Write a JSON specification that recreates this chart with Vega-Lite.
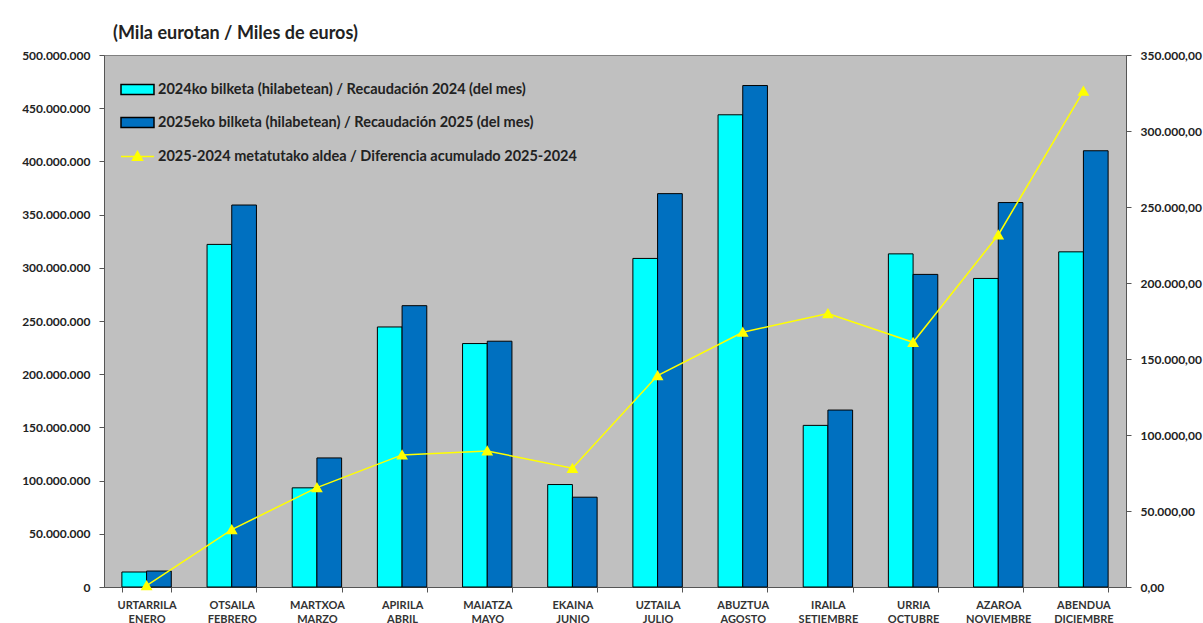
{
  "$schema": "https://vega.github.io/schema/vega-lite/v6.json",
  "autosize": "none",
  "width": 1022,
  "height": 532,
  "padding": {"left": 104, "top": 55, "right": 77, "bottom": 36},
  "background": "white",
  "title": {
    "text": "(Mila eurotan / Miles de euros)",
    "anchor": "start",
    "frame": "group",
    "dx": 9,
    "offset": 6,
    "font": "Lato",
    "fontSize": 18,
    "fontWeight": "bold",
    "color": "#222222"
  },
  "datasets": {
    "bars": [
      {"month": "URTARRILA|ENERO", "series": "2024ko bilketa (hilabetean) / Recaudación 2024 (del mes)", "value": 14100000},
      {"month": "URTARRILA|ENERO", "series": "2025eko bilketa (hilabetean) / Recaudación 2025 (del mes)", "value": 15000000},
      {"month": "OTSAILA|FEBRERO", "series": "2024ko bilketa (hilabetean) / Recaudación 2024 (del mes)", "value": 322000000},
      {"month": "OTSAILA|FEBRERO", "series": "2025eko bilketa (hilabetean) / Recaudación 2025 (del mes)", "value": 359000000},
      {"month": "MARTXOA|MARZO", "series": "2024ko bilketa (hilabetean) / Recaudación 2024 (del mes)", "value": 93200000},
      {"month": "MARTXOA|MARZO", "series": "2025eko bilketa (hilabetean) / Recaudación 2025 (del mes)", "value": 121300000},
      {"month": "APIRILA|ABRIL", "series": "2024ko bilketa (hilabetean) / Recaudación 2024 (del mes)", "value": 244400000},
      {"month": "APIRILA|ABRIL", "series": "2025eko bilketa (hilabetean) / Recaudación 2025 (del mes)", "value": 264400000},
      {"month": "MAIATZA|MAYO", "series": "2024ko bilketa (hilabetean) / Recaudación 2024 (del mes)", "value": 228800000},
      {"month": "MAIATZA|MAYO", "series": "2025eko bilketa (hilabetean) / Recaudación 2025 (del mes)", "value": 231000000},
      {"month": "EKAINA|JUNIO", "series": "2024ko bilketa (hilabetean) / Recaudación 2024 (del mes)", "value": 96300000},
      {"month": "EKAINA|JUNIO", "series": "2025eko bilketa (hilabetean) / Recaudación 2025 (del mes)", "value": 84400000},
      {"month": "UZTAILA|JULIO", "series": "2024ko bilketa (hilabetean) / Recaudación 2024 (del mes)", "value": 308800000},
      {"month": "UZTAILA|JULIO", "series": "2025eko bilketa (hilabetean) / Recaudación 2025 (del mes)", "value": 369700000},
      {"month": "ABUZTUA|AGOSTO", "series": "2024ko bilketa (hilabetean) / Recaudación 2024 (del mes)", "value": 443800000},
      {"month": "ABUZTUA|AGOSTO", "series": "2025eko bilketa (hilabetean) / Recaudación 2025 (del mes)", "value": 471300000},
      {"month": "IRAILA|SETIEMBRE", "series": "2024ko bilketa (hilabetean) / Recaudación 2024 (del mes)", "value": 151900000},
      {"month": "IRAILA|SETIEMBRE", "series": "2025eko bilketa (hilabetean) / Recaudación 2025 (del mes)", "value": 166300000},
      {"month": "URRIA|OCTUBRE", "series": "2024ko bilketa (hilabetean) / Recaudación 2024 (del mes)", "value": 313100000},
      {"month": "URRIA|OCTUBRE", "series": "2025eko bilketa (hilabetean) / Recaudación 2025 (del mes)", "value": 293800000},
      {"month": "AZAROA|NOVIEMBRE", "series": "2024ko bilketa (hilabetean) / Recaudación 2024 (del mes)", "value": 290000000},
      {"month": "AZAROA|NOVIEMBRE", "series": "2025eko bilketa (hilabetean) / Recaudación 2025 (del mes)", "value": 361300000},
      {"month": "ABENDUA|DICIEMBRE", "series": "2024ko bilketa (hilabetean) / Recaudación 2024 (del mes)", "value": 315000000},
      {"month": "ABENDUA|DICIEMBRE", "series": "2025eko bilketa (hilabetean) / Recaudación 2025 (del mes)", "value": 410000000}
    ],
    "diff": [
      {"month": "URTARRILA|ENERO", "series": "2025-2024 metatutako aldea / Diferencia acumulado 2025-2024", "diff": 900},
      {"month": "OTSAILA|FEBRERO", "series": "2025-2024 metatutako aldea / Diferencia acumulado 2025-2024", "diff": 37800},
      {"month": "MARTXOA|MARZO", "series": "2025-2024 metatutako aldea / Diferencia acumulado 2025-2024", "diff": 65400},
      {"month": "APIRILA|ABRIL", "series": "2025-2024 metatutako aldea / Diferencia acumulado 2025-2024", "diff": 86900},
      {"month": "MAIATZA|MAYO", "series": "2025-2024 metatutako aldea / Diferencia acumulado 2025-2024", "diff": 89500},
      {"month": "EKAINA|JUNIO", "series": "2025-2024 metatutako aldea / Diferencia acumulado 2025-2024", "diff": 78100},
      {"month": "UZTAILA|JULIO", "series": "2025-2024 metatutako aldea / Diferencia acumulado 2025-2024", "diff": 139100},
      {"month": "ABUZTUA|AGOSTO", "series": "2025-2024 metatutako aldea / Diferencia acumulado 2025-2024", "diff": 167600},
      {"month": "IRAILA|SETIEMBRE", "series": "2025-2024 metatutako aldea / Diferencia acumulado 2025-2024", "diff": 179900},
      {"month": "URRIA|OCTUBRE", "series": "2025-2024 metatutako aldea / Diferencia acumulado 2025-2024", "diff": 161000},
      {"month": "AZAROA|NOVIEMBRE", "series": "2025-2024 metatutako aldea / Diferencia acumulado 2025-2024", "diff": 231600},
      {"month": "ABENDUA|DICIEMBRE", "series": "2025-2024 metatutako aldea / Diferencia acumulado 2025-2024", "diff": 326300}
    ]
  },
  "layer": [
    {
      "data": {"name": "bars"},
      "mark": {"type": "bar", "stroke": "#000000", "strokeWidth": 1},
      "encoding": {
        "x": {
          "field": "month",
          "type": "nominal",
          "sort": null,
          "scale": {"paddingInner": 0.42, "paddingOuter": 0.21},
          "axis": {
            "title": null,
            "labelExpr": "split(datum.label, '|')",
            "labelAngle": 0,
            "tickBand": "extent",
            "tickSize": 5,
            "labelPadding": 7,
            "labelFont": "Lato",
            "labelFontSize": 11,
            "labelFontWeight": "bold",
            "labelColor": "#333333",
            "labelLineHeight": 14,
            "domainColor": "#555555",
            "tickColor": "#555555"
          }
        },
        "xOffset": {"field": "series", "sort": null, "scale": {"paddingInner": 0, "paddingOuter": 0}},
        "y": {
          "field": "value",
          "type": "quantitative",
          "scale": {"domain": [0, 500000000], "nice": false},
          "axis": {
            "title": null,
            "values": [0, 50000000, 100000000, 150000000, 200000000, 250000000, 300000000, 350000000, 400000000, 450000000, 500000000],
            "format": ",d",
            "grid": false,
            "tickSize": 5,
            "labelPadding": 9,
            "labelFont": "Lato",
            "labelFontSize": 12,
            "labelFontWeight": "bold",
            "labelColor": "#222222",
            "domainColor": "#555555",
            "tickColor": "#555555"
          }
        },
        "color": {
          "field": "series",
          "type": "nominal",
          "sort": null,
          "scale": {
            "domain": [
              "2024ko bilketa (hilabetean) / Recaudación 2024 (del mes)",
              "2025eko bilketa (hilabetean) / Recaudación 2025 (del mes)"
            ],
            "range": ["#00FFFF", "#0070C0"]
          },
          "legend": {
            "title": null,
            "orient": "none",
            "legendX": 16,
            "legendY": 17,
            "padding": 0,
            "symbolType": "M-1,-0.3H1V0.3H-1Z",
            "symbolSize": 1089,
            "symbolStrokeColor": "#000000",
            "symbolStrokeWidth": 1.5,
            "labelOffset": 3,
            "rowPadding": 7,
            "labelFont": "Lato",
            "labelFontSize": 14.5,
            "labelFontWeight": "bold",
            "labelColor": "#222222",
            "labelLimit": 700
          }
        }
      }
    },
    {
      "data": {"name": "diff"},
      "mark": {
        "type": "line",
        "strokeWidth": 1.5,
        "point": {"shape": "triangle-up", "filled": true, "size": 70, "color": "#FFFF00"}
      },
      "encoding": {
        "x": {"field": "month", "type": "nominal", "sort": null},
        "y": {
          "field": "diff",
          "type": "quantitative",
          "scale": {"domain": [0, 350000], "nice": false},
          "axis": {
            "title": null,
            "orient": "right",
            "values": [0, 50000, 100000, 150000, 200000, 250000, 300000, 350000],
            "format": ",.2f",
            "grid": false,
            "tickSize": 5,
            "labelPadding": 9,
            "labelFont": "Lato",
            "labelFontSize": 12,
            "labelFontWeight": "bold",
            "labelColor": "#222222",
            "domainColor": "#555555",
            "tickColor": "#555555"
          }
        },
        "stroke": {
          "field": "series",
          "type": "nominal",
          "scale": {
            "domain": ["2025-2024 metatutako aldea / Diferencia acumulado 2025-2024"],
            "range": ["#FFFF00"]
          },
          "legend": {
            "title": null,
            "orient": "none",
            "legendX": 16,
            "legendY": 84,
            "padding": 0,
            "symbolType": "M-1,0H1M-0.3,0.22L0,-0.3L0.3,0.22Z",
            "symbolSize": 1089,
            "symbolFillColor": "#FFFF00",
            "symbolStrokeWidth": 1.5,
            "labelOffset": 3,
            "labelFont": "Lato",
            "labelFontSize": 14.5,
            "labelFontWeight": "bold",
            "labelColor": "#222222",
            "labelLimit": 700
          }
        }
      }
    }
  ],
  "resolve": {"scale": {"y": "independent"}},
  "config": {
    "view": {"fill": "#C0C0C0", "stroke": "#808080", "strokeWidth": 1},
    "locale": {"number": {"decimal": ",", "thousands": ".", "grouping": [3], "currency": ["", " €"]}}
  }
}
